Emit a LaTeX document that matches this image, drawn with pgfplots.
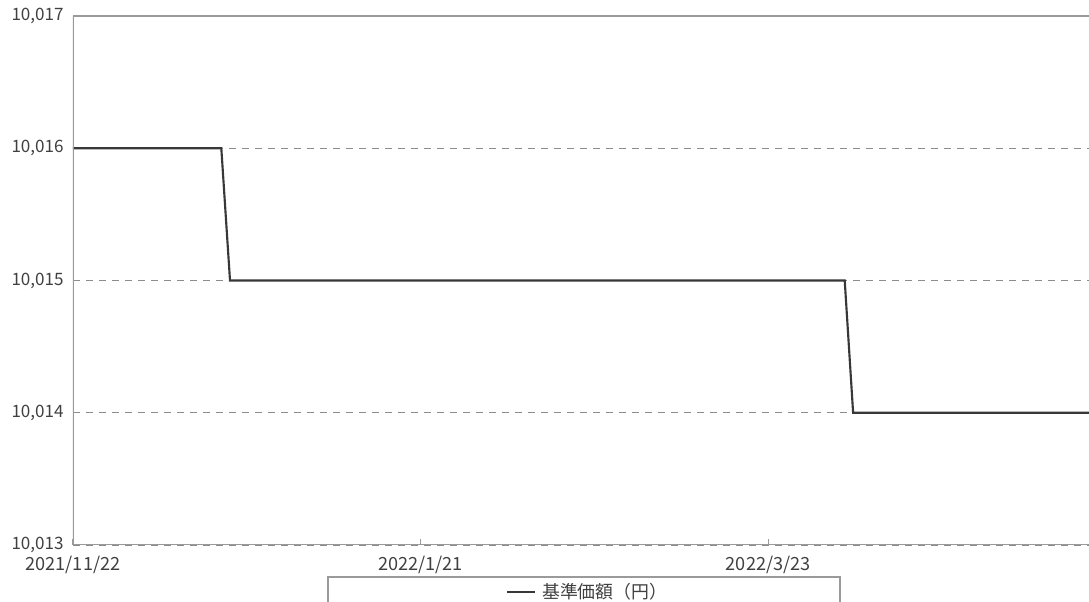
\documentclass[border=0pt]{standalone}
\usepackage{pgfplots}
\pgfplotsset{compat=1.18}
\usepackage{fontspec}
\setmainfont{Noto Sans CJK JP}
\definecolor{axisgray}{HTML}{9A9A9A}
\definecolor{gridgray}{HTML}{8C8C8C}
\definecolor{linegray}{HTML}{383838}
\definecolor{labelgray}{HTML}{404040}
\begin{document}
\begin{tikzpicture}
\useasboundingbox (-54.75pt,-42.75pt) rectangle (762pt,408.75pt);
\clip (-54.75pt,-42.75pt) rectangle (762pt,408.75pt);
\begin{axis}[
  at={(0pt,0pt)}, anchor=south west,
  scale only axis, width=766.5pt, height=396.75pt,
  xmin=0, xmax=176.4, ymin=10013, ymax=10017,
  axis line style={draw=none},
  xtick={0,60,120},
  xticklabels={2021/11/22,2022/1/21,2022/3/23},
  ytick={10013,10014,10015,10016,10017},
  scaled y ticks=false,
  yticklabel style={/pgf/number format/fixed, /pgf/number format/1000 sep={,}, /pgf/number format/assume math mode=true},
  xticklabel style={font=\fontsize{13.6}{15}\selectfont, text=labelgray, yshift=-4.5pt},
  yticklabel style={font=\fontsize{12.8}{15}\selectfont, text=labelgray, xshift=-3.5pt},
  tick align=inside,
  xtick pos=left,
  major tick length=4.5pt,
  xtick style={draw=axisgray, line width=0.8pt},
  ytick style={draw=none},
  ymajorgrids,
  grid style={gridgray, line width=0.9pt, dash pattern=on 5.25pt off 4.5pt},
  legend style={at={(0.5,0)}, anchor=center, yshift=-35.25pt, xshift=3pt, draw=none, fill=none,
    font=\fontsize{13.4}{15}\selectfont, text=labelgray},
  legend image code/.code={\draw[#1] (0pt,0pt) -- (21pt,0pt); \path (23.5pt,0pt);},
]
\addplot[linegray, line width=1.6pt, mark=none] coordinates {
  (0,10016) (25.6,10016) (27.1,10015) (133.2,10015) (134.65,10014) (176.4,10014)
};
\addlegendentry{基準価額（円）}
\draw[axisgray, line width=1.1pt] (rel axis cs:0,1) -- (rel axis cs:0,0) -- (rel axis cs:1,0);
\draw[axisgray, line width=1.1pt] (rel axis cs:0,1) -- (rel axis cs:1,1);
\end{axis}
\draw[axisgray, line width=1.1pt] (191.25pt,-60pt) -- (191.25pt,-24pt) -- (575.25pt,-24pt) -- (575.25pt,-60pt);
\end{tikzpicture}
\end{document}
